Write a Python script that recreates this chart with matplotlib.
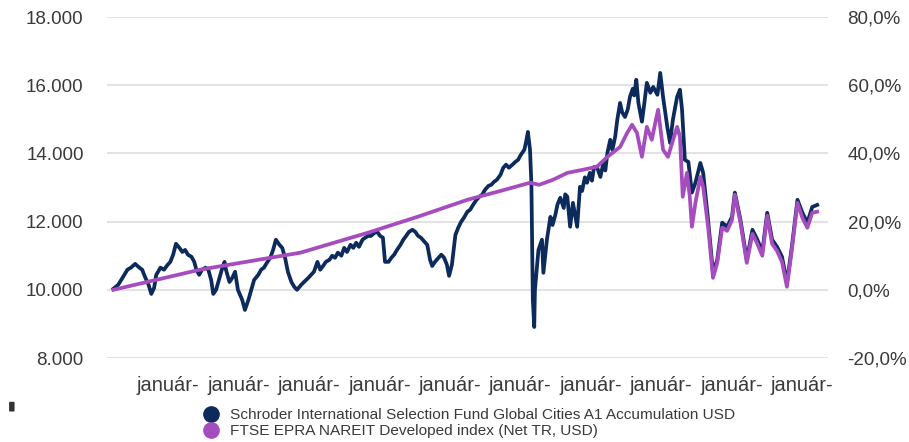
import matplotlib
matplotlib.use("Agg")
import matplotlib.pyplot as plt
from matplotlib.lines import Line2D
from matplotlib.patches import FancyBboxPatch

# Schroder ISF Global Cities A1 Acc USD - valor de 10.000 investidos
fund_t = [2014.22, 2014.29, 2014.35, 2014.42, 2014.47, 2014.53, 2014.59, 2014.63, 2014.67, 2014.72,
          2014.76, 2014.80, 2014.83, 2014.89, 2014.94, 2014.99, 2015.03, 2015.07, 2015.11, 2015.16,
          2015.20, 2015.24, 2015.28, 2015.33, 2015.37, 2015.40, 2015.44, 2015.48, 2015.53, 2015.57,
          2015.61, 2015.64, 2015.68, 2015.72, 2015.77, 2015.80, 2015.82, 2015.87, 2015.91, 2015.95,
          2015.99, 2016.05, 2016.09, 2016.14, 2016.18, 2016.22, 2016.28, 2016.32, 2016.36, 2016.41,
          2016.45, 2016.49, 2016.53, 2016.58, 2016.62, 2016.66, 2016.70, 2016.75, 2016.79, 2016.83,
          2016.89, 2016.93, 2016.99, 2017.03, 2017.07, 2017.12, 2017.16, 2017.20, 2017.24, 2017.29,
          2017.33, 2017.37, 2017.41, 2017.46, 2017.50, 2017.54, 2017.59, 2017.63, 2017.67, 2017.71,
          2017.76, 2017.80, 2017.84, 2017.88, 2017.93, 2017.97, 2018.01, 2018.05, 2018.08, 2018.13,
          2018.17, 2018.21, 2018.25, 2018.30, 2018.34, 2018.38, 2018.42, 2018.47, 2018.51, 2018.55,
          2018.59, 2018.64, 2018.68, 2018.72, 2018.75, 2018.79, 2018.84, 2018.88, 2018.92, 2018.96,
          2018.99, 2019.03, 2019.08, 2019.12, 2019.16, 2019.20, 2019.25, 2019.29, 2019.33, 2019.38,
          2019.42, 2019.46, 2019.50, 2019.55, 2019.59, 2019.63, 2019.67, 2019.72, 2019.76, 2019.80,
          2019.84, 2019.89, 2019.93, 2019.97, 2020.01, 2020.06, 2020.09, 2020.11, 2020.14, 2020.16,
          2020.17, 2020.18, 2020.20, 2020.21, 2020.26, 2020.31, 2020.33, 2020.38, 2020.43, 2020.46,
          2020.50, 2020.53, 2020.57, 2020.62, 2020.64, 2020.67, 2020.71, 2020.75, 2020.81, 2020.85,
          2020.88, 2020.92, 2020.95, 2020.99, 2021.02, 2021.05, 2021.09, 2021.14, 2021.18, 2021.21,
          2021.24, 2021.28, 2021.31, 2021.35, 2021.38, 2021.42, 2021.45, 2021.49, 2021.53, 2021.56,
          2021.60, 2021.62, 2021.65, 2021.68, 2021.73, 2021.76, 2021.80, 2021.85, 2021.89, 2021.95,
          2021.99, 2022.03, 2022.09, 2022.13, 2022.17, 2022.23, 2022.27, 2022.30, 2022.34, 2022.39,
          2022.44, 2022.49, 2022.56, 2022.60, 2022.67, 2022.74, 2022.80, 2022.87, 2022.94, 2023.01,
          2023.05, 2023.13, 2023.22, 2023.30, 2023.37, 2023.44, 2023.51, 2023.58, 2023.65, 2023.72,
          2023.79, 2023.86, 2023.94, 2024.01, 2024.08, 2024.15, 2024.22]
fund_v = [10030, 10150, 10350, 10590, 10650, 10760, 10650, 10590, 10380, 10150,
          9880, 10060, 10440, 10650, 10590, 10730, 10820, 11030, 11350, 11230,
          11110, 11170, 11030, 10970, 10820, 10590, 10440, 10590, 10650, 10590,
          10290, 9880, 10000, 10290, 10650, 10820, 10590, 10230, 10350, 10530,
          10000, 9710, 9410, 9710, 10000, 10290, 10440, 10590, 10650, 10820,
          10940, 11170, 11470, 11320, 11230, 10940, 10530, 10230, 10090, 10000,
          10150, 10230, 10350, 10440, 10530, 10820, 10590, 10700, 10820, 10880,
          11000, 10940, 11090, 11000, 11230, 11110, 11320, 11230, 11380, 11260,
          11470, 11530, 11580, 11580, 11670, 11700, 11580, 11530, 10820, 10820,
          10940, 11030, 11170, 11320, 11470, 11580, 11700, 11760, 11700, 11580,
          11530, 11410, 11320, 10880, 10700, 10820, 10940, 11030, 10940, 10730,
          10410, 10730, 11610, 11820, 11990, 12110, 12290, 12350, 12490, 12640,
          12730, 12790, 12930, 13050, 13080, 13170, 13230, 13370, 13580, 13670,
          13580, 13670, 13750, 13810, 13960, 14110, 14400, 14630, 14110, 13080,
          11470, 9710, 8910, 10000, 11170, 11470, 10500, 11470, 12140, 11900,
          12200, 12500, 12700, 12400, 12800, 12730, 11850, 12550, 11850, 13020,
          12900, 13300, 13140, 13430, 13200, 13600, 13610, 13310, 13700, 13500,
          14020, 14400, 14100, 14490, 14990, 15480, 15200, 15070, 15300, 15660,
          15900, 15700, 16160, 15480, 14930, 15400, 16070, 15780, 15950, 15720,
          16360, 15660, 14780, 14310, 14990, 15660, 15870, 15280, 13810, 13750,
          12850, 13140, 13720, 13430, 12050, 10500, 10880, 11970, 11850, 12140,
          12850, 12050, 10880, 11760, 11470, 11110, 12260, 11470, 11260, 10970,
          10210, 11260, 12640, 12260, 11970, 12430, 12490]

# FTSE EPRA NAREIT Developed index (Net TR, USD)
index_t = [2014.22, 2015.45, 2016.02, 2016.88, 2017.83, 2018.54, 2019.25, 2019.72, 2020.14, 2020.27,
           2020.47, 2020.67, 2020.89, 2021.09, 2021.24, 2021.42, 2021.52, 2021.59, 2021.66, 2021.73,
           2021.80, 2021.87, 2021.92, 2021.96, 2022.03, 2022.10, 2022.16, 2022.23, 2022.27, 2022.31,
           2022.37, 2022.41, 2022.44, 2022.49, 2022.56, 2022.60, 2022.67, 2022.74, 2022.80, 2022.87,
           2022.94, 2023.01, 2023.05, 2023.13, 2023.22, 2023.30, 2023.37, 2023.44, 2023.51, 2023.58,
           2023.65, 2023.72, 2023.79, 2023.86, 2023.94, 2024.01, 2024.08, 2024.15, 2024.22]
index_v = [10000, 10590, 10790, 11090, 11670, 12140, 12640, 12900, 13140, 13080,
           13230, 13430, 13520, 13610, 13900, 14190, 14600, 14840, 14600, 13900,
           14780, 14400, 14900, 15280, 14110, 13900, 14310, 14780, 14490, 12730,
           13430, 12730, 11850, 12550, 13310, 13020, 11850, 10350, 10790, 11820,
           11730, 12050, 12790, 11970, 10790, 11640, 11350, 11000, 12170, 11350,
           11140, 10820, 10090, 11170, 12550, 12110, 11820, 12260, 12290]

years = list(range(2015, 2025))
xlabels = ["január-"] * len(years)
left_ticks = [8000, 10000, 12000, 14000, 16000, 18000]
right_ticks = [-20, 0, 20, 40, 60, 80]

navy = "#0c2a5b"
purple = "#a54dbf"
txt = "#3a3a3a"

plt.rcParams["font.family"] = ["Liberation Sans", "DejaVu Sans"]

fig = plt.figure(figsize=(9.09, 4.42), dpi=100)
ax = fig.add_axes([0.118, 0.19, 0.793, 0.7715])

ax.plot(fund_t, fund_v, color=navy, lw=2.7, solid_joinstyle="round", zorder=3)
ax.plot(index_t, index_v, color=purple, lw=2.7, solid_joinstyle="round", zorder=4)

ax.set_xlim(2014.134, 2024.375)
ax.set_ylim(8000, 18000)
ax.set_yticks(left_ticks)
ax.set_yticklabels([f"{v:,}".replace(",", ".") for v in left_ticks])
ax.set_xticks(years)
ax.set_xticklabels(xlabels)
ax.grid(axis="y", color="#e3e3e3", lw=1.5)
ax.set_axisbelow(True)
for s in ax.spines.values():
    s.set_visible(False)
ax.tick_params(axis="y", length=0, pad=17, labelsize=13.5, labelcolor=txt)
ax.tick_params(axis="x", length=0, pad=13, labelsize=14.5, labelcolor=txt)

ax2 = ax.twinx()
ax2.set_ylim(-20, 80)
ax2.set_yticks(right_ticks)
ax2.set_yticklabels([f"{v:.1f}%".replace(".", ",") for v in right_ticks])
for s in ax2.spines.values():
    s.set_visible(False)
ax2.tick_params(axis="y", length=0, pad=14, labelsize=13.5, labelcolor=txt)

handles = [
    Line2D([], [], ls="none", marker="o", ms=11, color=navy),
    Line2D([], [], ls="none", marker="o", ms=11, color=purple),
]
labels = [
    "Schroder International Selection Fund Global Cities A1 Accumulation USD",
    "FTSE EPRA NAREIT Developed index (Net TR, USD)",
]
fig.legend(handles, labels, loc="upper left", bbox_to_anchor=(0.215, 0.094),
           frameon=False, fontsize=11.1, handletextpad=0.75, labelspacing=0.15,
           handlelength=1.0, borderpad=0, labelcolor=txt)

# pequeno ícone escuro no canto inferior esquerdo
fig.patches.append(FancyBboxPatch((0.011, 0.07), 0.004, 0.02, boxstyle="round,pad=0.001",
                                  transform=fig.transFigure, facecolor="#333333",
                                  edgecolor="none"))

fig.savefig("out.png", dpi=100)
